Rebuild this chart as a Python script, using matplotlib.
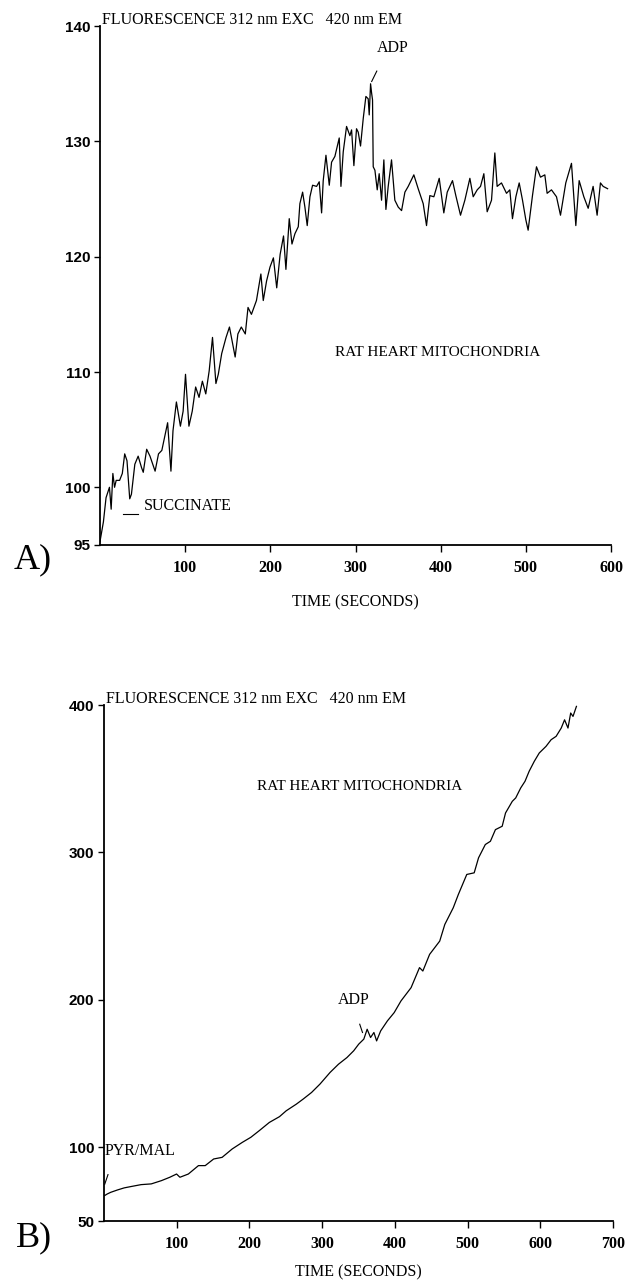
# Fluorescence traces - rat heart mitochondria (panels A and B)

import matplotlib.pyplot as plt

# Panel A data (succinate, ADP)
tempo_a = [0, 4, 7.1, 11.1, 13.1, 15.1, 17.1, 19.0, 23.0, 26.2, 29.0, 31.7, 34.9, 36.9,
           40.9, 44.8, 48.8, 50.8, 54.8, 58.7, 64.7, 68.7, 72.6, 76.6, 79.4, 83.3,
           85.7, 89.7, 94.4, 97.6, 100.4, 104.4, 108.3, 112.3, 116.3, 120.2, 124.2,
           128.2, 132.1, 136.1, 138.9, 142.9, 148.0, 152.0, 158.7, 161.9, 165.9,
           170.6, 173.8, 177.8, 183.7, 188.9, 191.7, 195.6, 199.6, 203.6, 207.5,
           211.5, 215.5, 218.3, 222.2, 225.4, 228.9, 232.8, 234.7, 237.9, 240.6,
           243.3, 246.5, 249.6, 254.3, 257.4, 260.2, 262.1, 265.3, 269.2, 271.9,
           275.8, 280.9, 282.9, 285.6, 289.5, 293.4, 295.4, 298.1, 301.2, 303.2,
           305.9, 309.1, 312.2, 314.9, 316.1, 317.7, 318.9, 320.0, 320.8, 322.8,
           325.5, 327.8, 330.6, 333.3, 335.7, 338.4, 342.3, 346.2, 350.2, 354.1,
           358.0, 361.9, 368.5, 373.6, 379.5, 383.4, 387.3, 392.0, 398.3, 403.7,
           407.7, 413.9, 417.8, 423.3, 428.4, 434.3, 438.2, 442.9, 446.8, 450.7,
           454.6, 459.7, 463.6, 466.3, 471.4, 477.3, 481.2, 484.3, 488.3, 492.2,
           496.1, 500.0, 502.7, 507.8, 512.5, 517.2, 522.3, 525.0, 530.1, 536.0,
           540.7, 546.9, 553.6, 558.7, 562.6, 568.1, 573.2, 579.0, 583.7, 587.6,
           590.8, 596.0]
fluor_a = [95.3, 97.0, 99.1, 100.0, 98.1, 101.2, 100.0, 100.6, 100.6, 101.2, 102.9,
           102.3, 99.0, 99.4, 102.0, 102.7, 101.7, 101.3, 103.3, 102.7, 101.4, 102.9,
           103.2, 104.6, 105.6, 101.4, 104.9, 107.4, 105.3, 106.6, 109.8, 105.3,
           106.6, 108.7, 107.8, 109.2, 108.1, 110.1, 113.0, 109.0, 109.8, 111.6,
           113.0, 113.9, 111.3, 113.3, 113.9, 113.3, 115.6, 115.0, 116.2, 118.5,
           116.2, 117.9, 119.1, 119.9, 117.3, 120.2, 121.8, 118.9, 123.3, 121.1,
           122.0, 122.6, 124.6, 125.6, 124.3, 122.7, 125.2, 126.2, 126.1, 126.5,
           123.8, 126.6, 128.8, 126.2, 128.2, 128.7, 130.3, 126.1, 129.1, 131.3,
           130.5, 131.0, 127.9, 131.1, 130.8, 129.6, 132.0, 133.9, 133.7, 132.3,
           135.0, 134.2, 133.6, 127.8, 127.5, 125.8, 127.2, 124.9, 128.4, 124.1,
           126.1, 128.4, 124.9, 124.3, 124.0, 125.6, 126.1, 127.1, 125.9, 124.6,
           122.7, 125.3, 125.2, 126.8, 123.8, 125.6, 126.6, 125.3, 123.6, 124.9,
           126.8, 125.2, 125.8, 126.1, 127.2, 123.9, 124.9, 129.0, 126.1, 126.4,
           125.5, 125.8, 123.3, 125.2, 126.4, 124.9, 123.2, 122.3, 125.3, 127.8,
           126.9, 127.1, 125.5, 125.8, 125.2, 123.6, 126.4, 128.1, 122.7, 126.6,
           125.2, 124.2, 126.1, 123.6, 126.4, 126.1, 125.9]

# Panel B data (pyruvate/malate, ADP)
tempo_b = [0.9, 4.6, 9.3, 18.6, 27.8, 37.1, 51.0, 65.0, 78.9, 90.5, 99.8, 104.4,
           116.0, 129.9, 139.2, 150.8, 162.4, 176.3, 190.3, 201.9, 213.5, 227.4,
           241.3, 250.6, 264.5, 273.8, 285.4, 297.0, 310.9, 322.5, 334.1, 343.4,
           350.3, 357.3, 361.9, 366.6, 371.2, 374.9, 380.5, 389.8, 399.1, 408.4,
           422.3, 433.9, 438.5, 447.8, 461.7, 468.7, 480.3, 487.3, 498.9, 509.1,
           515.1, 524.4, 531.4, 538.3, 547.6, 552.2, 561.5, 566.2, 573.1, 579.0,
           584.7, 591.7, 598.6, 607.9, 614.9, 621.8, 628.8, 633.4, 638.1, 641.8,
           645.0, 649.7]
fluor_b = [67.3, 68.4, 69.5, 71.1, 72.5, 73.4, 74.7, 75.2, 77.4, 79.7, 81.9, 79.7,
           81.9, 87.6, 87.6, 92.1, 93.2, 98.9, 103.4, 106.8, 111.3, 116.9, 120.8,
           124.8, 129.3, 132.7, 137.2, 142.9, 150.8, 156.4, 160.9, 165.5, 170.0,
           173.4, 180.1, 174.5, 177.9, 172.2, 179.0, 185.8, 191.4, 199.3, 208.3,
           221.9, 219.6, 230.9, 239.9, 251.2, 262.5, 271.5, 285.1, 286.2, 296.4,
           305.4, 307.6, 315.5, 317.8, 326.8, 334.7, 337.0, 343.8, 348.3, 355.1,
           361.8, 367.5, 372.0, 376.5, 378.8, 384.4, 390.0, 384.4, 394.6, 392.3,
           399.1]

yticks_a = [95, 100, 110, 120, 130, 140]
xticks_a = [100, 200, 300, 400, 500, 600]
yticks_b = [50, 100, 200, 300, 400]
xticks_b = [100, 200, 300, 400, 500, 600, 700]

titulo = "FLUORESCENCE 312 nm EXC   420 nm EM"
serif = "Liberation Serif"
sans = "Liberation Sans"

fig = plt.figure(figsize=(6.25, 12.81), dpi=100)
ax_a = fig.add_axes([0.16, 0.5746, 0.8176, 0.405])
ax_b = fig.add_axes([0.1664, 0.0468, 0.8144, 0.4028])


def estilo(ax, xmax, ymin, ymax, xt, yt, lpad):
    ax.set_xlim(0, xmax)
    ax.set_ylim(ymin, ymax)
    for s in ['top', 'right']:
        ax.spines[s].set_visible(False)
    for s in ['left', 'bottom']:
        ax.spines[s].set_linewidth(1.3)
    ax.set_xticks(xt)
    ax.set_yticks(yt)
    ax.set_yticklabels([str(v) for v in yt], family=sans, weight='bold', fontsize=11)
    ax.set_xticklabels([str(v) for v in xt], family=serif, weight='bold', fontsize=11.5)
    ax.tick_params(axis='y', length=4, width=1, pad=3)
    ax.tick_params(axis='x', length=5, width=1, pad=6)
    ax.set_xlabel("TIME (SECONDS)", family=serif, fontsize=11.5, labelpad=lpad)
    ax.text(0.004, 1.004, titulo, transform=ax.transAxes, family=serif,
            fontsize=11.5, va='baseline', ha='left')


# Painel A
ax_a.plot(tempo_a, fluor_a, color='black', lw=0.9)
estilo(ax_a, 600, 95, 140, xticks_a, yticks_a, 13)
ax_a.plot([319, 325], [135.2, 136.1], color='black', lw=0.8)
ax_a.plot([27, 45], [97.7, 97.7], color='black', lw=0.8)
ax_a.text(325, 138.1, "ADP", family=serif, fontsize=11.5, va='center')
ax_a.text(52, 98.4, "SUCCINATE", family=serif, fontsize=11.5, va='center')
ax_a.text(276, 111.7, "RAT HEART MITOCHONDRIA", family=serif, fontsize=11, va='center')

# Painel B
ax_b.plot(tempo_b, fluor_b, color='black', lw=0.9)
estilo(ax_b, 700, 50, 400, xticks_b, yticks_b, 9)
ax_b.plot([1, 5.5], [75, 81.5], color='black', lw=0.8)
ax_b.plot([351.7, 355.5], [183.5, 177.9], color='black', lw=0.8)
ax_b.text(322, 200, "ADP", family=serif, fontsize=11.5, va='center')
ax_b.text(1, 97.8, "PYR/MAL", family=serif, fontsize=11.5, va='center')
ax_b.text(211, 344.5, "RAT HEART MITOCHONDRIA", family=serif, fontsize=11, va='center')

fig.text(0.022, 1 - 560 / 1281, "A)", family=serif, fontsize=26, va='center')
fig.text(0.025, 1 - 1238 / 1281, "B)", family=serif, fontsize=26, va='center')

plt.savefig("out.png", dpi=100)
